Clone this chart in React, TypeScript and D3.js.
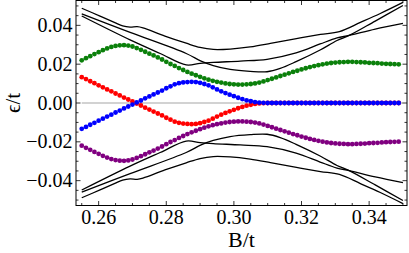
import * as d3 from 'd3'

const width = 409
const height = 253
const frame = { left: 76, right: 407, top: 0.5, bottom: 205.5 }

// field grid of the dotted levels
const bGrid = d3.range(76).map((i) => 0.255 + i * 0.00125)

const redLevel = [
  0.0133, 0.0123, 0.0112, 0.0102, 0.0091, 0.0081, 0.007, 0.006, 0.0049, 0.0039,
  0.0028, 0.0018, 0.0008, -0.0003, -0.0013, -0.0024, -0.0034, -0.0044, -0.0054, -0.0064,
  -0.0076, -0.0086, -0.0096, -0.0102, -0.0106, -0.0108, -0.0109, -0.0108, -0.0104, -0.0098,
  -0.0091, -0.0081, -0.007, -0.006, -0.0051, -0.0043, -0.0035, -0.0027, -0.002, -0.0014,
  -0.0009, -0.0005, -0.0002, -0.0001, 0, 0, 0, 0, 0, 0,
  0, 0, 0, 0, 0, 0, 0, 0, 0, 0,
  0, 0, 0, 0, 0, 0, 0, 0, 0, 0,
  0, 0, 0, 0, 0, 0,
]

const blueLevel = [
  -0.0133, -0.0123, -0.0112, -0.0102, -0.0091, -0.0081, -0.007, -0.006, -0.0049, -0.0039,
  -0.0028, -0.0018, -0.0008, 0.0003, 0.0013, 0.0024, 0.0034, 0.0044, 0.0054, 0.0064,
  0.0076, 0.0086, 0.0096, 0.0102, 0.0106, 0.0108, 0.0109, 0.0108, 0.0104, 0.0098,
  0.0091, 0.0081, 0.007, 0.006, 0.0051, 0.0043, 0.0035, 0.0027, 0.002, 0.0014,
  0.0009, 0.0005, 0.0002, 0.0001, 0, 0, 0, 0, 0, 0,
  0, 0, 0, 0, 0, 0, 0, 0, 0, 0,
  0, 0, 0, 0, 0, 0, 0, 0, 0, 0,
  0, 0, 0, 0, 0, 0,
]

const greenLevel = [
  0.022, 0.0231, 0.0241, 0.0252, 0.0262, 0.0272, 0.0281, 0.0289, 0.0294, 0.0297,
  0.0298, 0.0296, 0.0291, 0.0283, 0.0274, 0.0264, 0.0254, 0.0245, 0.0235, 0.0224,
  0.0212, 0.0201, 0.0191, 0.018, 0.017, 0.016, 0.0151, 0.0143, 0.0135, 0.0127,
  0.012, 0.0114, 0.0109, 0.0105, 0.0101, 0.0098, 0.0096, 0.0095, 0.0095, 0.0096,
  0.0098, 0.0101, 0.0105, 0.0111, 0.0118, 0.0125, 0.0132, 0.0139, 0.0146, 0.0153,
  0.016, 0.0166, 0.0173, 0.0179, 0.0185, 0.019, 0.0195, 0.0199, 0.0203, 0.0206,
  0.0208, 0.021, 0.0211, 0.0212, 0.0212, 0.0211, 0.021, 0.0209, 0.0207, 0.0206,
  0.0205, 0.0203, 0.0202, 0.0201, 0.02, 0.0199,
]

const purpleLevel = [
  -0.022, -0.0231, -0.0241, -0.0252, -0.0262, -0.0272, -0.0281, -0.0289, -0.0294, -0.0297,
  -0.0298, -0.0296, -0.0291, -0.0283, -0.0274, -0.0264, -0.0254, -0.0245, -0.0235, -0.0224,
  -0.0212, -0.0201, -0.0191, -0.018, -0.017, -0.016, -0.0151, -0.0143, -0.0135, -0.0127,
  -0.012, -0.0114, -0.0109, -0.0105, -0.0101, -0.0098, -0.0096, -0.0095, -0.0095, -0.0096,
  -0.0098, -0.0101, -0.0105, -0.0111, -0.0118, -0.0125, -0.0132, -0.0139, -0.0146, -0.0153,
  -0.016, -0.0166, -0.0173, -0.0179, -0.0185, -0.019, -0.0195, -0.0199, -0.0203, -0.0206,
  -0.0208, -0.021, -0.0211, -0.0212, -0.0212, -0.0211, -0.021, -0.0209, -0.0207, -0.0206,
  -0.0205, -0.0203, -0.0202, -0.0201, -0.02, -0.0199,
]

// continuum bands (black lines), sampled at their own B values
const bandAB = [
  0.255, 0.2604, 0.2648, 0.2671, 0.2693, 0.2714, 0.2731, 0.2796, 0.2859, 0.29,
  0.2939, 0.2989, 0.3048, 0.3108, 0.3185, 0.3256, 0.3312, 0.3374, 0.3433, 0.35,
]
const bandAUpper = [
  0.0488, 0.0448, 0.0414, 0.0397, 0.0391, 0.0393, 0.0387, 0.0345, 0.0308, 0.0286,
  0.0276, 0.0278, 0.0289, 0.0307, 0.0332, 0.0353, 0.0368, 0.0415, 0.0461, 0.0518,
]
const bandALower = [
  -0.0488, -0.0448, -0.0414, -0.0397, -0.0391, -0.0393, -0.0387, -0.0345, -0.0308, -0.0286,
  -0.0276, -0.0278, -0.0289, -0.0307, -0.0332, -0.0353, -0.0368, -0.0415, -0.0461, -0.0518,
]

const bandPB = [
  0.255, 0.2693, 0.2859, 0.2903, 0.2939, 0.2989, 0.3048, 0.3098, 0.3137, 0.3184,
  0.3255, 0.3305, 0.3341, 0.3418, 0.35,
]
const bandPUpper = [
  0.0459, 0.0364, 0.0255, 0.0216, 0.0193, 0.0173, 0.0163, 0.0161, 0.0178, 0.0213,
  0.0273, 0.0322, 0.0348, 0.0422, 0.0502,
]
const bandPLower = [
  -0.0459, -0.0364, -0.0255, -0.0216, -0.0193, -0.0173, -0.0163, -0.0161, -0.0178, -0.0213,
  -0.0273, -0.0322, -0.0348, -0.0422, -0.0502,
]

const bandQB = [
  0.255, 0.2693, 0.2782, 0.2859, 0.29, 0.2939, 0.3019, 0.3098, 0.3184, 0.3255,
  0.3305, 0.3341, 0.3418, 0.35,
]
const bandQUpper = [
  0.0448, 0.0325, 0.0255, 0.0196, 0.0204, 0.0209, 0.0216, 0.0225, 0.0258, 0.0304,
  0.0335, 0.0348, 0.0381, 0.041,
]
const bandQLower = [
  -0.0448, -0.0325, -0.0255, -0.0196, -0.0204, -0.0209, -0.0216, -0.0225, -0.0258, -0.0304,
  -0.0335, -0.0348, -0.0381, -0.041,
]

const xTicks = [0.26, 0.28, 0.3, 0.32, 0.34]
const xTickLabels = ['0.26', '0.28', '0.30', '0.32', '0.34']
const yTicks = [-0.04, -0.02, 0, 0.02, 0.04]
const yTickLabels = ['\u22120.04', '\u22120.02', '0.00', '0.02', '0.04']

const serif = 'Liberation Serif'

function App() {
  const x = d3.scaleLinear().domain([0.2533, 0.3512]).range([frame.left, frame.right])
  const y = d3.scaleLinear().domain([-0.0528, 0.0528]).range([frame.bottom, frame.top])

  const line = d3
    .line<[number, number]>()
    .x((d) => x(d[0]))
    .y((d) => y(d[1]))
    .curve(d3.curveCatmullRom.alpha(0.5))

  const bands: [number[], number[]][] = [
    [bandAB, bandAUpper],
    [bandAB, bandALower],
    [bandPB, bandPUpper],
    [bandPB, bandPLower],
    [bandQB, bandQUpper],
    [bandQB, bandQLower],
  ]

  const levels: [number[], string][] = [
    [greenLevel, '#0b800b'],
    [purpleLevel, '#800080'],
    [redLevel, '#ff0000'],
    [blueLevel, '#0000ff'],
  ]

  const xMinor = d3.range(0.255, 0.3505, 0.005)
  const yMinor = d3.range(-0.05, 0.0505, 0.005)

  return (
    <svg
      width={width}
      height={height}
      viewBox={`0 0 ${width} ${height}`}
      style={{ position: 'absolute', left: 0, top: 0, background: '#fff' }}
    >
      <line
        x1={x(0.255)}
        x2={x(0.35)}
        y1={y(0)}
        y2={y(0)}
        stroke="#a6a6a6"
        strokeWidth={1.2}
      />

      {bands.map(([bs, vs], i) => (
        <path
          key={`band-${i}`}
          d={line(bs.map((b, j) => [b, vs[j]] as [number, number])) ?? ''}
          fill="none"
          stroke="#000"
          strokeWidth={1.3}
        />
      ))}

      {levels.map(([vs, color]) =>
        vs.map((v, i) => (
          <circle key={`${color}-${i}`} cx={x(bGrid[i])} cy={y(v)} r={2.4} fill={color} />
        )),
      )}

      <rect
        x={frame.left}
        y={frame.top}
        width={frame.right - frame.left}
        height={frame.bottom - frame.top}
        fill="none"
        stroke="#000"
        strokeWidth={1}
      />

      {xMinor.map((t) => {
        const major = xTicks.some((m) => Math.abs(m - t) < 1e-6)
        const len = major ? 4.5 : 2.5
        return (
          <g key={`xt-${t}`} stroke="#000" strokeWidth={0.8}>
            <line x1={x(t)} x2={x(t)} y1={frame.bottom} y2={frame.bottom - len} />
            <line x1={x(t)} x2={x(t)} y1={frame.top} y2={frame.top + len} />
          </g>
        )
      })}

      {yMinor.map((t) => {
        const major = yTicks.some((m) => Math.abs(m - t) < 1e-6)
        const len = major ? 4.5 : 2.5
        return (
          <g key={`yt-${t}`} stroke="#000" strokeWidth={0.8}>
            <line x1={frame.left} x2={frame.left + len} y1={y(t)} y2={y(t)} />
            <line x1={frame.right} x2={frame.right - len} y1={y(t)} y2={y(t)} />
          </g>
        )
      })}

      <g fontFamily={serif} fill="#000">
        {xTicks.map((t, i) => (
          <text key={`xl-${t}`} x={x(t)} y={223.5} textAnchor="middle" fontSize={20}>
            {xTickLabels[i]}
          </text>
        ))}

        {yTicks.map((t, i) => (
          <text
            key={`yl-${t}`}
            x={72.5}
            y={y(t)}
            dy="0.33em"
            textAnchor="end"
            fontSize={20}
          >
            {yTickLabels[i]}
          </text>
        ))}

        <text x={(frame.left + frame.right) / 2} y={247} textAnchor="middle" fontSize={22}>
          B/t
        </text>

        <text
          transform={`translate(19.5, ${(frame.top + frame.bottom) / 2}) rotate(-90)`}
          textAnchor="middle"
          fontSize={21}
        >
          {'\u03f5/t'}
        </text>
      </g>
    </svg>
  )
}

export default App
